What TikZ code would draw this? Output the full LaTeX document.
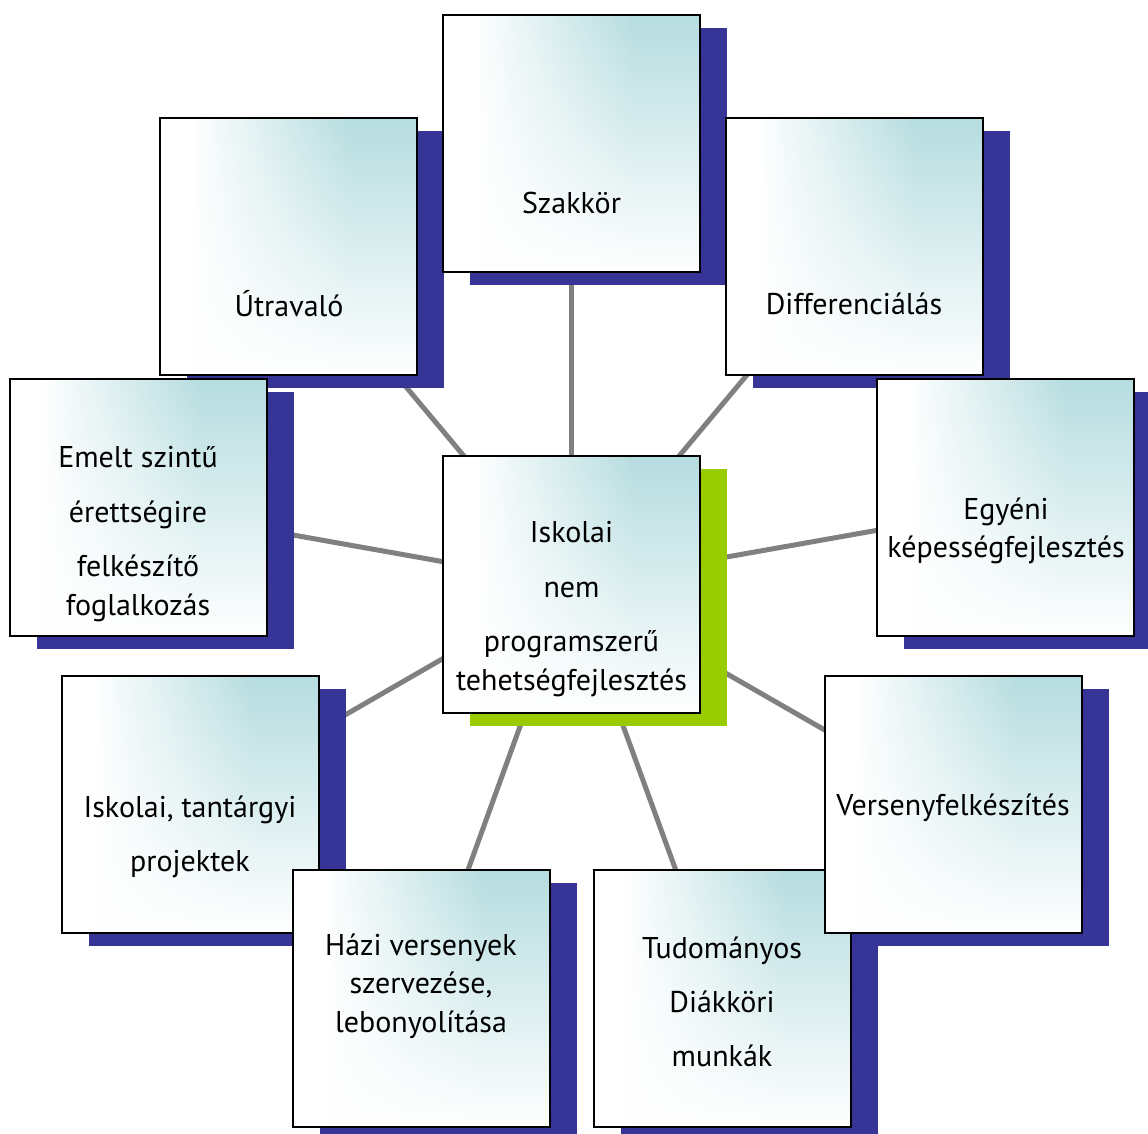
\documentclass[tikz,border=0pt]{standalone}
\usepackage{fontspec}
\setmainfont{PT Sans}
\usetikzlibrary{shadows,backgrounds,fadings}

\definecolor{boxteal}{RGB}{182,221,224}
\definecolor{shblue}{RGB}{54,52,150}
\definecolor{shgreen}{RGB}{153,204,0}
\definecolor{spokegray}{RGB}{128,128,128}

\pgfdeclarehorizontalshading{tealside}{100bp}{%
  color(0bp)=(white); color(31bp)=(white); color(62bp)=(boxteal); color(100bp)=(boxteal)}
\tikzfading[name=boxfade, top color=transparent!100, middle color=transparent!65,
  bottom color=transparent!0]

\tikzset{
  plainbox/.style={draw=black, line width=1.5pt, shade, shading=tealside,
    minimum width=192.75pt, minimum height=192.75pt, inner sep=0pt,
    path picture={\fill[white, path fading=boxfade]
      (path picture bounding box.south west) rectangle (path picture bounding box.north east);}},
  box/.style={plainbox,
    drop shadow={shadow xshift=20.25pt, shadow yshift=-9.75pt, fill=shblue, opacity=1}},
  midbox/.style={plainbox,
    drop shadow={shadow xshift=20.25pt, shadow yshift=-9.75pt, fill=shgreen, opacity=1}},
  lbl/.style={align=center, text=black, font=\fontsize{22.5}{29}\selectfont},
  spoke/.style={draw=spokegray, line width=3.75pt}
}

\begin{document}
\begin{tikzpicture}[x=0.75pt,y=-0.75pt]

\useasboundingbox (0,0) rectangle (1148,1133);

% outer boxes
\node[box] (utra) at (288.5,246.5) {};
\node[box] (szak) at (571.5,143) {};
\node[box] (diff) at (854.5,246.5) {};
\node[box] (emelt) at (138.5,507.5) {};
\node[box] (egyeni) at (1005.5,507.5) {};
\node[box] (iskt) at (190.5,804) {};
\node[box] (tudo) at (722.5,998) {};
\node[box] (hazi) at (421.5,998) {};
\node[box] (verseny) at (953.5,804) {};

% centre
\node[midbox] (mid) at (571.5,584.5) {};

% texts
\node[lbl] (mid-t) at (571.5,609) {Iskolai\\[12pt]nem\\[12pt]programszerű\\tehetségfejlesztés};
\node[lbl] (szak-t) at (571.5,203) {Szakkör};
\node[lbl] (utra-t) at (289,304) {Útravaló};
\node[lbl] (diff-t) at (854,304) {Differenciálás};
\node[lbl] (emelt-t) at (138,534) {Emelt szintű\\[12pt]érettségire\\[11.5pt]felkészítő\\foglalkozás};
\node[lbl] (egyeni-t) at (1006,531) {Egyéni\\képességfejlesztés};
\node[lbl] (iskt-t) at (190,837) {Iskolai, tantárgyi\\[11.5pt]projektek};
\node[lbl] (verseny-t) at (953,808) {Versenyfelkészítés};
\node[lbl] (hazi-t) at (421,986) {Házi versenyek\\szervezése,\\lebonyolítása};
\node[lbl] (tudo-t) at (722,1002) {Tudományos\\[11.5pt]Diákköri\\[11.5pt]munkák};

% spokes
\begin{scope}[on background layer]
\foreach \n in {utra,szak,diff,emelt,egyeni,iskt,tudo,hazi,verseny}
    \draw[spoke] (mid.center) -- (\n.center);
\end{scope}

\end{tikzpicture}
\end{document}
